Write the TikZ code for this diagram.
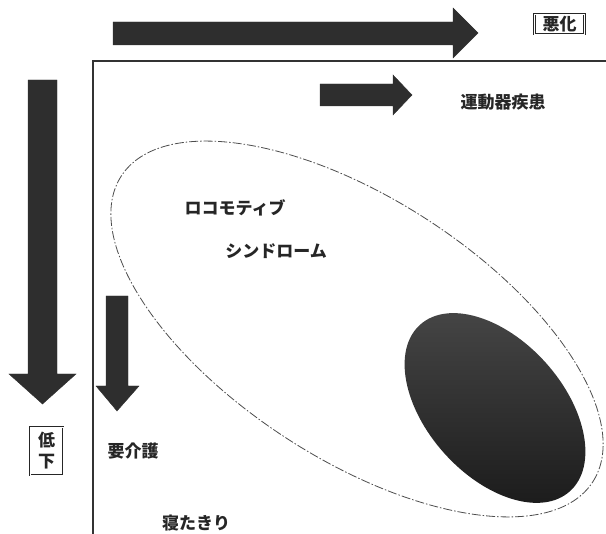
\documentclass[tikz,border=0pt]{standalone}
\usepackage{fontspec}
\newfontfamily\jp{Noto Sans CJK JP}
\begin{document}
\begin{tikzpicture}[x=1pt,y=-1pt,
  lbl/.style={font=\jp\bfseries\fontsize{17}{19}\selectfont, inner sep=0pt, text=black!85},
  bigarrow/.style={fill=black!82, draw=black!82, line width=0.4pt},
  axis/.style={draw=black!80, line width=1.3pt},
  framebox/.style={draw=black!85, double, double distance=0.9pt, line width=0.9pt, inner xsep=8pt, inner ysep=2pt},
  outer/.style={draw=black!70, line width=0.8pt, dash pattern=on 9pt off 2pt on 1.5pt off 2pt}
]
\useasboundingbox (0,0) rectangle (606,534);
% axes
\coordinate (O) at (93,61);
\coordinate (XE) at (606,61);
\coordinate (YE) at (93,534);
\draw[axis] (XE) -- (O) -- (YE);
% top arrow
\fill[bigarrow] (113,22) -- (453,22) -- (453,8) -- (478,33) -- (453,58) -- (453,45) -- (113,45) -- cycle;
% left arrow
\fill[bigarrow] (28,80) -- (57,80) -- (57,374) -- (76,374) -- (42.5,404) -- (9,374) -- (28,374) -- cycle;
% small right arrow
\fill[bigarrow] (320,84) -- (393,84) -- (393,75) -- (412,95) -- (393,115) -- (393,106) -- (320,106) -- cycle;
% small down arrow
\fill[bigarrow] (106,296) -- (128,296) -- (128,386) -- (139,386) -- (117,411) -- (96,386) -- (106,386) -- cycle;
% outer dashed ellipse
\coordinate (ec) at (357,329);
\draw[outer, rotate around={-33:(ec)}] (ec) ellipse (281pt and 130pt);
% dark ellipse
\coordinate (dc) at (495,408);
\shade[rotate around={-48:(dc)}, left color=black!72, right color=black!90, shading angle=0] (dc) ellipse (112pt and 68pt);
% labels
\node[lbl, framebox] (akka) at (559.5,24) {悪化};
\node[lbl, framebox, inner ysep=5.5pt, align=center, font=\jp\bfseries\fontsize{17}{21}\selectfont] (teika) at (46.5,451) {低\\下};
\node[lbl] (undo) at (503,102) {運動器疾患};
\node[lbl] (loco) at (235,208) {ロコモティブ};
\node[lbl] (synd) at (276,251) {シンドローム};
\node[lbl] (kaigo) at (133,451) {要介護};
\node[lbl] (netaki) at (196,523) {寝たきり};
\end{tikzpicture}
\end{document}
